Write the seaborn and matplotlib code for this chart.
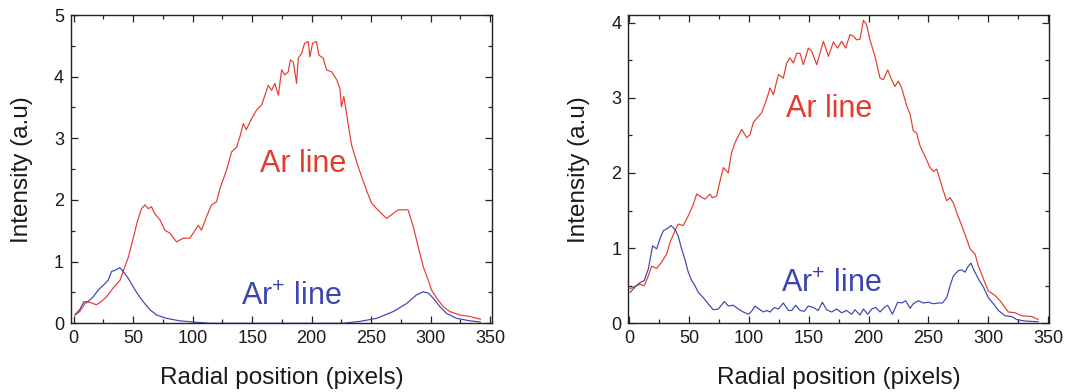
import numpy as np
import pandas as pd
import matplotlib.pyplot as plt
import matplotlib as mpl
from matplotlib.ticker import MultipleLocator
import seaborn as sns

# --------------------------------------------------------------
# Data
# --------------------------------------------------------------

left_ar_x = [1, 5, 9.4, 12, 16.4, 19, 23, 27.6, 33, 39, 43, 46, 50, 53.4, 57, 60, 62.6, 65.4, 68,
             72.4, 76.6, 81, 86.4, 92, 97.6, 100.4, 104.6, 107.4, 111.6, 115.8, 120, 123, 128.5,
             132.7, 137, 139.7, 142.5, 145, 149.5, 153.7, 157.9, 160.7, 163.5, 166.3, 169, 172,
             174.7, 177.5, 180.3, 182, 184.5, 187.3, 188.7, 191.5, 194, 197, 198.5, 200.7, 204,
             206, 209.7, 212.5, 216.7, 221, 223.7, 225, 227, 230.7, 233.5, 237.7, 241.9, 246,
             250.3, 254.5, 258.7, 262.9, 267, 272.7, 276.9, 281, 285.3, 289.5, 293.7, 297.9,
             300.7, 304.9, 310.5, 316, 324.5, 333, 342]
left_ar_y = [0.135, 0.19, 0.32, 0.35, 0.32, 0.30, 0.35, 0.43, 0.57, 0.70, 0.92, 1.08, 1.38, 1.65,
             1.86, 1.92, 1.86, 1.89, 1.78, 1.68, 1.51, 1.46, 1.32, 1.38, 1.38, 1.46, 1.59, 1.51,
             1.73, 1.92, 1.97, 2.19, 2.49, 2.78, 2.86, 3.03, 3.24, 3.14, 3.32, 3.46, 3.54, 3.70,
             3.86, 3.78, 3.89, 3.70, 4.11, 4.03, 4.08, 4.27, 4.24, 3.89, 4.30, 4.38, 4.54, 4.57,
             4.32, 4.54, 4.57, 4.35, 4.30, 4.11, 4.08, 3.95, 3.81, 3.51, 3.68, 3.22, 2.89, 2.62,
             2.38, 2.16, 1.95, 1.86, 1.78, 1.70, 1.76, 1.84, 1.84, 1.84, 1.57, 1.24, 0.92, 0.70,
             0.54, 0.41, 0.27, 0.19, 0.135, 0.11, 0.065]

left_ion_x = [1, 5, 8.6, 12, 16.4, 20.6, 25, 29, 31.8, 34.6, 38.8, 41.6, 45.8, 50, 54.2, 58.4, 64,
              69.6, 78, 89, 100.4, 114.5, 140, 170, 200, 226, 240.5, 254.5, 268.5, 279.7, 288,
              293.7, 297.9, 302, 307.7, 313.3, 321.7, 333, 342]
left_ion_y = [0.135, 0.22, 0.35, 0.35, 0.43, 0.54, 0.62, 0.70, 0.84, 0.86, 0.90, 0.84, 0.73, 0.59,
              0.46, 0.35, 0.22, 0.135, 0.08, 0.04, 0.02, 0.0, 0.0, 0.0, 0.0, 0.0, 0.03, 0.08,
              0.19, 0.32, 0.46, 0.51, 0.49, 0.41, 0.27, 0.16, 0.08, 0.04, 0.02]

right_ar_x = [0.7, 4.8, 9, 12.6, 16, 18.8, 23, 27, 31.3, 34, 38.3, 41, 45.2, 49.4, 53.6, 56.4, 59.2,
              63.4, 67.5, 69.5, 73, 75.9, 78.7, 82.8, 85.6, 88.4, 91.2, 94, 98.2, 101, 103.7, 108,
              110.7, 114.9, 117.7, 120.5, 124.7, 128.8, 131.6, 134.4, 137.2, 140, 142.8, 145.5,
              149.7, 152.5, 156.7, 162.3, 166.5, 170.6, 174.2, 177.5, 180.9, 184.5, 187.3, 190,
              192.9, 195.7, 198.4, 201.2, 205.4, 209.6, 212.4, 216, 219.3, 222, 224.9, 227.7,
              231.9, 234.7, 237.4, 240.2, 243, 247.2, 251.4, 254.2, 257, 259.7, 262.5, 265.3,
              268.1, 270.9, 273.7, 277.8, 282, 284.8, 289, 291.8, 296, 300.1, 305.7, 309.9, 314,
              316.8, 322.4, 328, 336.3, 341.9]
right_ar_y = [0.46, 0.49, 0.52, 0.50, 0.63, 0.76, 0.73, 0.81, 0.92, 1.07, 1.23, 1.32, 1.30, 1.43,
              1.58, 1.72, 1.69, 1.65, 1.72, 1.67, 1.69, 1.89, 2.07, 2.00, 2.27, 2.40, 2.49, 2.58,
              2.47, 2.51, 2.67, 2.75, 2.80, 2.98, 3.13, 3.04, 3.31, 3.26, 3.46, 3.53, 3.46, 3.59,
              3.59, 3.44, 3.66, 3.62, 3.44, 3.75, 3.55, 3.74, 3.66, 3.75, 3.66, 3.84, 3.82, 3.77,
              3.78, 4.03, 3.97, 3.77, 3.55, 3.26, 3.24, 3.37, 3.24, 3.15, 3.22, 3.13, 2.89, 2.78,
              2.56, 2.53, 2.36, 2.22, 2.07, 2.02, 2.05, 1.91, 1.76, 1.63, 1.67, 1.60, 1.47, 1.30,
              1.12, 0.99, 0.92, 0.76, 0.59, 0.43, 0.37, 0.30, 0.21, 0.15, 0.14, 0.10, 0.09, 0.05]

right_ion_x = [0.7, 4.8, 9, 12.6, 16, 19.6, 23, 25.7, 28.5, 32.7, 34.9, 38.3, 41, 43.8, 46.6, 49.4,
               52.2, 55, 57.8, 62, 66, 70.3, 74.5, 79.5, 82.8, 87, 91.2, 95.4, 99.6, 102.4, 105.1,
               109.3, 112.1, 114.9, 117.7, 121.3, 124.7, 128.8, 133, 135.8, 139.1, 142.8, 146.4,
               149.7, 153.9, 158, 161.4, 165, 169.2, 173.4, 177.5, 181.7, 185.9, 188.7, 192.9,
               195.7, 199.3, 202.6, 206, 209.6, 212.4, 216, 219.9, 224.3, 227.7, 231, 234.7, 237.4,
               241.6, 245.8, 250, 254.2, 258.3, 261.7, 265.3, 268.1, 270.9, 275, 277.8, 280.6,
               283.4, 285.6, 287.6, 291.8, 296, 300.1, 304.3, 308.5, 314, 319.6, 323.7, 330.7,
               341.9]
right_ion_y = [0.41, 0.48, 0.54, 0.57, 0.72, 1.03, 0.99, 1.12, 1.23, 1.27, 1.30, 1.25, 1.16, 0.99,
               0.85, 0.68, 0.57, 0.50, 0.41, 0.34, 0.26, 0.18, 0.19, 0.29, 0.23, 0.24, 0.19, 0.15,
               0.12, 0.16, 0.23, 0.18, 0.15, 0.17, 0.15, 0.21, 0.19, 0.27, 0.17, 0.17, 0.24, 0.17,
               0.16, 0.23, 0.21, 0.17, 0.28, 0.18, 0.15, 0.19, 0.14, 0.17, 0.12, 0.18, 0.11, 0.19,
               0.12, 0.19, 0.21, 0.15, 0.20, 0.24, 0.12, 0.28, 0.27, 0.30, 0.20, 0.26, 0.30, 0.27,
               0.28, 0.26, 0.27, 0.27, 0.34, 0.50, 0.63, 0.70, 0.71, 0.68, 0.76, 0.80, 0.72, 0.59,
               0.48, 0.34, 0.26, 0.17, 0.10, 0.09, 0.05, 0.03, 0.02]

RED = "#e63a2e"
BLUE = "#3a45b0"

# --------------------------------------------------------------
# Plot settings
# --------------------------------------------------------------

sns.set_theme(style="ticks")
plt.rcParams["font.family"] = ["Liberation Sans", "DejaVu Sans"]
mpl.rcParams["axes.linewidth"] = 1.0
mpl.rcParams["xtick.direction"] = "in"
mpl.rcParams["ytick.direction"] = "in"

fig = plt.figure(figsize=(10.66, 3.92), dpi=100)
ax1 = fig.add_axes([0.0666, 0.1753, 0.3947, 0.7864])
ax2 = fig.add_axes([0.5894, 0.1753, 0.3947, 0.7864])

panels = [
    (ax1, left_ar_x, left_ar_y, left_ion_x, left_ion_y, (0, 5), (-2.3, 351.3),
     (193, 2.58), (183, 0.43)),
    (ax2, right_ar_x, right_ar_y, right_ion_x, right_ion_y, (0, 4.1), (-0.7, 350.8),
     (167, 2.85), (168.6, 0.52)),
]

for ax, ax_x, ax_y, ix, iy, ylim, xlim, ar_pos, ion_pos in panels:
    sns.lineplot(x=ax_x, y=ax_y, color=RED, linewidth=0.85, ax=ax)
    sns.lineplot(x=ix, y=iy, color=BLUE, linewidth=0.85, ax=ax)
    ax.set_xlim(*xlim)
    ax.set_ylim(*ylim)
    ax.xaxis.set_major_locator(MultipleLocator(50))
    ax.xaxis.set_minor_locator(MultipleLocator(25))
    ax.yaxis.set_major_locator(MultipleLocator(1))
    ax.yaxis.set_minor_locator(MultipleLocator(0.5))
    ax.tick_params(which="both", top=True, right=True, color="#222222", width=0.9)
    ax.tick_params(which="major", length=5, labelsize=13, pad=5, labelcolor="#1a1a1a")
    ax.tick_params(which="minor", length=3)
    for s in ax.spines.values():
        s.set_color("#222222")
    ax.set_xlabel("Radial position (pixels)", fontsize=17.5, color="#1a1a1a", labelpad=14)
    ax.set_ylabel("Intensity (a.u)", fontsize=17.5, color="#1a1a1a", labelpad=15)
    ax.text(*ar_pos, "Ar line", color=RED, fontsize=22, ha="center", va="center")
    ax.text(*ion_pos, r"Ar$^{\mathregular{+}}$ line", color=BLUE, fontsize=22,
            ha="center", va="center")

plt.savefig("out.png", dpi=100)
